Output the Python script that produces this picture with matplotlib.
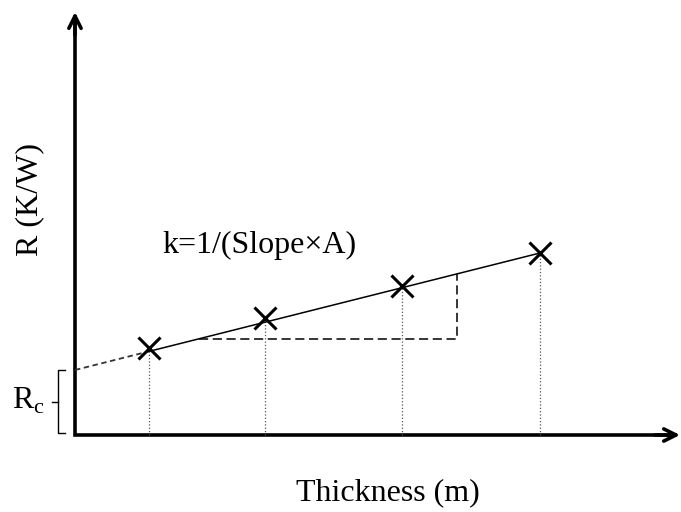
import numpy as np
import matplotlib
matplotlib.use("Agg")
import matplotlib.pyplot as plt

plt.rcParams['font.family'] = ['Liberation Serif', 'DejaVu Serif']

# measured samples (arbitrary units)
thickness = [0.74, 1.90, 3.27, 4.65]
resistance = [0.87, 1.17, 1.49, 1.82]

# fitted line: R = Rc + slope * L
rc = 0.65
slope = (resistance[-1] - rc) / thickness[-1]

# slope triangle corners (thickness range)
tri_x0 = 1.24
tri_x1 = 3.82

fig = plt.figure(figsize=(6.81, 5.12), dpi=100)
ax = fig.add_axes([0, 0, 1, 1])
ax.set_xlim(-0.75, 6.06)
ax.set_ylim(-0.77, 4.35)
ax.axis('off')

# axes: L-shaped frame plus arrow heads
ax.plot([0, 0, 6.0], [4.2, 0, 0], color='black', lw=2.6,
        solid_joinstyle='miter', solid_capstyle='butt')
arrow = dict(arrowstyle='->', lw=2.6, color='black', mutation_scale=22,
             shrinkA=0, shrinkB=0)
ax.annotate('', xy=(6.05, 0), xytext=(5.8, 0), arrowprops=arrow)
ax.annotate('', xy=(0, 4.23), xytext=(0, 4.0), arrowprops=arrow)

# dotted drop lines
for x, y in zip(thickness, resistance):
    ax.plot([x, x], [0, y], ls=':', lw=0.9, color='#555555')

# fit line: dashed extrapolation to the intercept, solid across the data
x0 = thickness[0]
ax.plot([0, x0], [rc, rc + slope * x0], ls='--', lw=1.3, color='#333333',
        dashes=(3, 2))
ax.plot([x0, thickness[-1]], [rc + slope * x0, rc + slope * thickness[-1]],
        lw=1.1, color='black')

# slope triangle
y0 = rc + slope * tri_x0
y1 = rc + slope * tri_x1
ax.plot([tri_x0, tri_x1, tri_x1], [y0, y0, y1], ls='--', lw=1.1,
        color='black', dashes=(6, 3))

# sample markers
ax.plot(thickness, resistance, 'x', color='black', ms=16, mew=2.2)

# Rc bracket
bx = -0.17
ax.plot([bx + 0.07, bx, bx, bx + 0.07], [rc, rc, 0.02, 0.02],
        color='black', lw=1.0)
ax.plot([bx - 0.06, bx], [rc / 2 + 0.01, rc / 2 + 0.01], color='black', lw=1.0)
ax.text(-0.47, rc / 2 + 0.02, r'R$_\mathregular{c}$', fontsize=23,
        ha='center', va='center')

ax.text(0.87, 1.90, 'k=1/(Slope\u00d7A)', fontsize=23, ha='left', va='center')
ax.text(3.13, -0.58, 'Thickness (m)', fontsize=23, ha='center', va='center')
ax.text(-0.45, 2.35, 'R (K/W)', fontsize=23, ha='center', va='center',
        rotation=90)

fig.savefig('out.png', dpi=100)
